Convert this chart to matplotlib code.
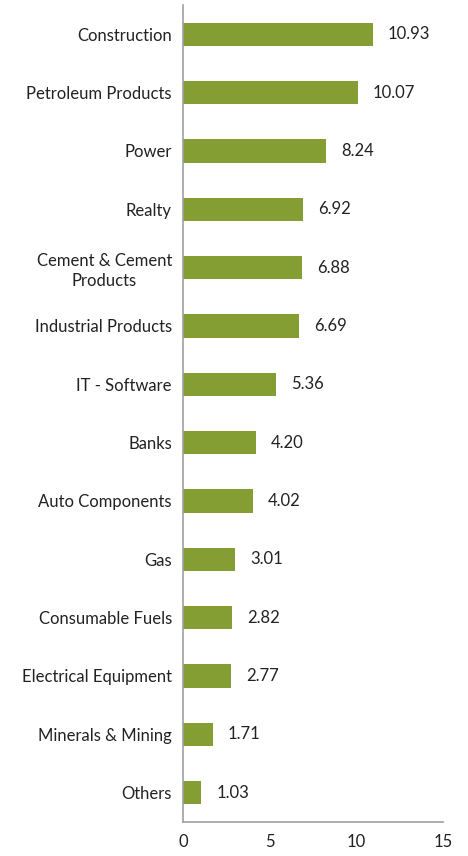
import matplotlib
matplotlib.use("Agg")
import matplotlib.pyplot as plt

# sector allocation (%)
sectors = [
    "Construction", "Petroleum Products", "Power", "Realty",
    "Cement & Cement\nProducts", "Industrial Products", "IT - Software",
    "Banks", "Auto Components", "Gas", "Consumable Fuels",
    "Electrical Equipment", "Minerals & Mining", "Others",
]
weights = [10.93, 10.07, 8.24, 6.92, 6.88, 6.69, 5.36,
           4.20, 4.02, 3.01, 2.82, 2.77, 1.71, 1.03]
x_ticks = [0, 5, 10, 15]

plt.rcParams["font.family"] = ["Lato", "DejaVu Sans"]

fig = plt.figure(figsize=(4.68, 8.56), dpi=100)
ax = fig.add_axes([0.391, 0.040, 0.556, 0.954])

pos = list(range(len(sectors)))
ax.barh(pos, weights, height=0.40, color="#849E33")

for y, v in zip(pos, weights):
    ax.annotate(f"{v:.2f}", (v, y), xytext=(11, 0), textcoords="offset points",
                va="center", ha="left", fontsize=12, color="#222222")

ax.set_ylim(len(sectors) - 0.5, -0.5)
ax.set_xlim(0, 15)
ax.set_xticks(x_ticks)
ax.set_yticks(pos)
ax.set_yticklabels(sectors, multialignment="center", linespacing=1.3)
ax.tick_params(axis="both", length=0, labelsize=12, colors="#222222")
ax.tick_params(axis="y", pad=8)
ax.tick_params(axis="x", pad=9)

for side in ["top", "right"]:
    ax.spines[side].set_visible(False)
for side in ["left", "bottom"]:
    ax.spines[side].set_color("#A0A0A0")
    ax.spines[side].set_linewidth(1.2)

fig.savefig("out.png", dpi=100)
